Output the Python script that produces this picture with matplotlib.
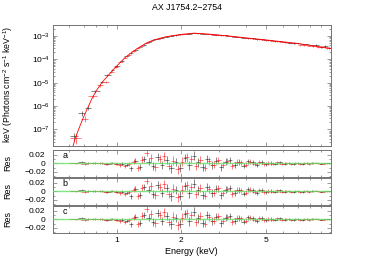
import numpy as np
import matplotlib
matplotlib.use('Agg')
import matplotlib.pyplot as plt
from matplotlib.ticker import LogLocator, NullFormatter, FixedLocator, FixedFormatter, MultipleLocator

plt.rcParams['font.family'] = ['Liberation Sans', 'DejaVu Sans']
plt.rcParams['mathtext.fontset'] = 'custom'
plt.rcParams['mathtext.rm'] = 'Liberation Sans'
plt.rcParams['mathtext.it'] = 'Liberation Sans:italic'
plt.rcParams['mathtext.bf'] = 'Liberation Sans:bold'

title = 'AX J1754.2\u22122754'
panel_tags = ['a', 'b', 'c']
xtick_vals = [1, 2, 5]
res_ticks = [-0.02, 0, 0.02]
res_ticklabels = ['\u22120.02', '0', '0.02']

# best-fit model, E (keV) vs keV*flux
model_e = [0.615, 0.62, 0.64, 0.67, 0.70, 0.735, 0.77, 0.81, 0.85, 0.90, 0.95,
           1.00, 1.05, 1.10, 1.20, 1.30, 1.40, 1.50, 1.70, 2.00, 2.30, 2.70,
           3.00, 3.50, 4.00, 5.00, 6.00, 7.00, 8.00, 9.00, 10.0]
model_f = [1.12e-8, 1.62e-8, 4.37e-8, 1.32e-7, 3.55e-7, 9.55e-7, 2.40e-6, 5.25e-6,
           1.00e-5, 1.82e-5, 3.16e-5, 5.25e-5, 8.32e-5, 1.26e-4, 2.29e-4, 3.72e-4,
           5.37e-4, 6.92e-4, 9.33e-4, 1.17e-3, 1.32e-3, 1.20e-3, 1.10e-3, 9.55e-4,
           8.32e-4, 6.76e-4, 5.62e-4, 4.79e-4, 3.98e-4, 3.39e-4, 2.95e-4]

# data set 1 (black)
blk_edges = [0.605, 0.66, 0.71, 0.76, 0.83, 0.87, 0.935, 0.97, 1.035, 1.085,
             1.135, 1.19, 1.25, 1.31, 1.375, 1.445, 1.515, 1.59, 1.67, 1.755,
             1.845, 1.935, 2.03, 2.13, 2.235, 2.345, 2.46, 2.585, 2.715, 2.85,
             2.995, 3.145, 3.30, 3.465, 3.64, 3.825, 4.015, 4.215, 4.425, 4.645,
             4.88, 5.125, 5.38, 5.65, 5.935, 6.23, 6.54, 6.87, 7.215, 7.575,
             7.955, 8.355, 8.775, 9.215, 9.675, 9.99]
blk_flux = [5.0e-8, 5.0e-7, 8.3e-7, 4.3e-6, 1.10e-5, 2.1e-5, 3.55e-5, 5.1e-5, 8.7e-5, 1.38e-4,
            1.82e-4, 2.4e-4, 3.4e-4, 4.27e-4, 5.75e-4, 6.76e-4, 7.4e-4, 8.5e-4, 9.3e-4, 1.02e-3,
            1.07e-3, 1.17e-3, 1.20e-3, 1.26e-3, 1.35e-3, 1.29e-3, 1.26e-3, 1.23e-3, 1.17e-3, 1.15e-3,
            1.07e-3, 1.05e-3, 1.00e-3, 9.3e-4, 9.1e-4, 8.5e-4, 8.1e-4, 7.8e-4, 7.4e-4, 7.1e-4,
            6.6e-4, 6.5e-4, 6.0e-4, 5.9e-4, 5.5e-4, 5.25e-4, 5.0e-4, 4.9e-4, 4.37e-4, 4.37e-4,
            4.0e-4, 4.2e-4, 3.4e-4, 3.6e-4, 3.16e-4]
blk_ferr = [0.35, 0.25, 0.22, 0.15, 0.12, 0.10, 0.08, 0.07, 0.06, 0.05,
            0.05, 0.045, 0.04, 0.04, 0.035, 0.035, 0.03, 0.03, 0.03, 0.03,
            0.03, 0.03, 0.03, 0.03, 0.03, 0.03, 0.03, 0.03, 0.03, 0.03,
            0.03, 0.03, 0.035, 0.035, 0.035, 0.04, 0.04, 0.04, 0.045, 0.045,
            0.05, 0.05, 0.05, 0.055, 0.055, 0.06, 0.06, 0.065, 0.07, 0.07,
            0.075, 0.08, 0.085, 0.09, 0.10]
blk_res = [0.0005, 0.004, 0.001, 0.0, 0.001, -0.001, 0.0, -0.002, -0.001, -0.003,
           -0.012, 0.006, -0.008, 0.010, 0.004, -0.006, 0.015, -0.004, 0.008, -0.012,
           0.003, -0.010, 0.012, -0.005, 0.018, 0.002, -0.008, 0.010, -0.004, 0.006,
           -0.009, 0.004, 0.008, -0.005, 0.003, -0.006, 0.005, 0.002, -0.004, 0.003,
           -0.002, 0.001, -0.002, 0.002, -0.001, 0.001, -0.001, 0.001, -0.001, 0.001,
           0.0, 0.001, -0.001, 0.0, 0.0]
blk_rerr = [0.001, 0.002, 0.002, 0.002, 0.002, 0.002, 0.002, 0.003, 0.003, 0.004,
            0.006, 0.006, 0.007, 0.008, 0.009, 0.009, 0.009, 0.010, 0.010, 0.010,
            0.010, 0.010, 0.010, 0.010, 0.010, 0.010, 0.009, 0.009, 0.009, 0.008,
            0.008, 0.008, 0.007, 0.007, 0.007, 0.006, 0.006, 0.005, 0.005, 0.005,
            0.004, 0.004, 0.003, 0.003, 0.003, 0.003, 0.002, 0.002, 0.002, 0.002,
            0.002, 0.0015, 0.0015, 0.0015, 0.0015]

# data set 2 (red)
red_edges = [0.605, 0.68, 0.735, 0.81, 0.86, 0.915, 0.965, 1.015, 1.065, 1.115,
             1.17, 1.225, 1.285, 1.345, 1.41, 1.48, 1.55, 1.625, 1.705, 1.79,
             1.88, 1.975, 2.07, 2.175, 2.285, 2.395, 2.515, 2.64, 2.77, 2.91,
             3.055, 3.21, 3.37, 3.54, 3.715, 3.9, 4.095, 4.3, 4.515, 4.74,
             4.975, 5.225, 5.485, 5.76, 6.05, 6.35, 6.665, 7.0, 7.35, 7.715,
             8.10, 8.505, 8.93, 9.375, 9.845]
red_flux = [4.4e-8, 2.9e-7, 2.6e-6, 7.6e-6, 1.10e-5, 2.75e-5, 4.7e-5, 7.9e-5, 1.15e-4, 1.58e-4,
            2.2e-4, 3.0e-4, 3.8e-4, 5.25e-4, 5.9e-4, 7.1e-4, 7.8e-4, 8.9e-4, 9.8e-4, 1.05e-3,
            1.12e-3, 1.17e-3, 1.26e-3, 1.32e-3, 1.32e-3, 1.29e-3, 1.23e-3, 1.23e-3, 1.15e-3, 1.12e-3,
            1.05e-3, 1.02e-3, 9.5e-4, 9.3e-4, 8.7e-4, 8.3e-4, 7.9e-4, 7.6e-4, 7.2e-4, 6.9e-4,
            6.6e-4, 6.3e-4, 6.0e-4, 5.6e-4, 5.4e-4, 5.1e-4, 4.8e-4, 4.0e-4, 4.1e-4, 3.9e-4,
            3.8e-4, 3.5e-4, 3.3e-4, 3.0e-4]
red_ferr = [0.45, 0.30, 0.15, 0.12, 0.10, 0.08, 0.07, 0.06, 0.05, 0.05,
            0.045, 0.04, 0.04, 0.035, 0.035, 0.03, 0.03, 0.03, 0.03, 0.03,
            0.03, 0.03, 0.03, 0.03, 0.03, 0.03, 0.03, 0.03, 0.03, 0.03,
            0.03, 0.035, 0.035, 0.035, 0.04, 0.04, 0.04, 0.045, 0.045, 0.05,
            0.05, 0.05, 0.055, 0.055, 0.06, 0.06, 0.065, 0.07, 0.07, 0.075,
            0.08, 0.085, 0.09, 0.10]
red_res = [0.0, -0.002, 0.001, 0.0, -0.002, 0.001, -0.001, -0.004, -0.006, -0.002,
           0.004, -0.010, 0.008, 0.024, 0.012, -0.008, 0.010, 0.016, -0.006, 0.006,
           -0.014, 0.004, 0.014, 0.010, -0.006, 0.008, -0.010, 0.005, -0.003, 0.007,
           -0.004, 0.006, -0.006, 0.004, 0.002, -0.003, 0.004, -0.002, 0.003, -0.002,
           0.001, -0.001, 0.002, -0.001, 0.001, -0.002, 0.0, -0.001, 0.001, -0.001,
           0.0, 0.0, -0.001, 0.0]
red_rerr = [0.001, 0.002, 0.002, 0.002, 0.002, 0.003, 0.003, 0.004, 0.005, 0.005,
            0.006, 0.007, 0.008, 0.008, 0.009, 0.009, 0.010, 0.010, 0.010, 0.010,
            0.010, 0.010, 0.010, 0.010, 0.010, 0.010, 0.009, 0.009, 0.009, 0.008,
            0.008, 0.007, 0.007, 0.007, 0.006, 0.006, 0.005, 0.005, 0.005, 0.004,
            0.004, 0.004, 0.003, 0.003, 0.003, 0.003, 0.002, 0.002, 0.002, 0.002,
            0.002, 0.0015, 0.0015, 0.0015]


def bins(edges):
    e = np.array(edges)
    lo, hi = e[:-1], e[1:]
    c = np.sqrt(lo * hi)
    return c, np.vstack([c - lo, hi - c])


blk_e, blk_xerr = bins(blk_edges)
red_e, red_xerr = bins(red_edges)
datasets = [
    (blk_e, blk_xerr, np.array(blk_flux), np.array(blk_ferr), np.array(blk_res), np.array(blk_rerr), 'black', 0.55),
    (red_e, red_xerr, np.array(red_flux), np.array(red_ferr), np.array(red_res), np.array(red_rerr), 'red', 0.6),
]

W, H = 373, 258
fig = plt.figure(figsize=(W / 100, H / 100), dpi=100)


def px_axes(left, top, right, bottom):
    return fig.add_axes([left / W, 1 - bottom / H, (right - left) / W, (bottom - top) / H])


frame = '0.45'


def style(ax):
    ax.set_xscale('log')
    ax.set_xlim(0.5, 10)
    ax.xaxis.set_major_locator(FixedLocator(xtick_vals))
    ax.xaxis.set_minor_locator(FixedLocator([0.6, 0.7, 0.8, 0.9, 3, 4, 6, 7, 8, 9]))
    ax.xaxis.set_minor_formatter(NullFormatter())
    ax.tick_params(which='both', direction='in', top=True, right=True, color=frame,
                   labelsize=6, width=0.5)
    ax.tick_params(which='major', length=3)
    ax.tick_params(which='minor', length=1.6)
    for s in ax.spines.values():
        s.set_color(frame)
        s.set_linewidth(0.7)


ax = px_axes(52.5, 25, 330.7, 146.3)
style(ax)
ax.set_yscale('log')
ax.set_ylim(1.9e-8, 2.95e-3)
ax.yaxis.set_major_locator(LogLocator(base=10, numticks=12))
ax.yaxis.set_minor_locator(LogLocator(base=10, subs=np.arange(2, 10), numticks=12))
ax.yaxis.set_minor_formatter(NullFormatter())
ax.tick_params(axis='x', labelbottom=False)
ax.tick_params(axis='y', pad=2)
for e, xe, f, fe, r, re, col, lw in datasets:
    ax.errorbar(e, f, xerr=xe, yerr=f * fe, fmt='none', ecolor=col, elinewidth=lw, alpha=0.6)
ax.plot(model_e, model_f, color='red', lw=0.6)

res_tops = [150, 178, 206]
for i, tag in enumerate(panel_tags):
    top = res_tops[i]
    rax = px_axes(52.5, top, 330.7, top + 26.5)
    style(rax)
    rax.set_ylim(-0.031, 0.031)
    rax.yaxis.set_major_locator(FixedLocator(res_ticks))
    rax.yaxis.set_major_formatter(FixedFormatter(res_ticklabels))
    rax.yaxis.set_minor_locator(MultipleLocator(0.01))
    rax.tick_params(axis='y', pad=5)
    for e, xe, f, fe, r, re, col, lw in datasets:
        rax.errorbar(e, r, xerr=xe, yerr=re, fmt='none', ecolor=col, elinewidth=lw, alpha=0.6)
    rax.axhline(0, color='#66dd66', lw=1.0, alpha=0.8, zorder=3)
    rax.text(0.035, 0.8, tag, transform=rax.transAxes, fontsize=6.5, va='center')
    if i < 2:
        rax.tick_params(axis='x', labelbottom=False)
    else:
        rax.xaxis.set_major_formatter(FixedFormatter([str(v) for v in xtick_vals]))
        rax.tick_params(axis='x', pad=3)
    fig.text(8 / W, 1 - (top + 13) / H, 'Res', rotation=90, ha='center', va='center', fontsize=6.5)

fig.text(0.5, 1 - 7.5 / H, title, ha='center', va='center', fontsize=6.3)
fig.text(191.6 / W, 1 - 252 / H, 'Energy (keV)', ha='center', va='center', fontsize=6.5)
fig.text(8 / W, 1 - 84 / H, 'keV (Photons cm$^{-2}$ s$^{-1}$ keV$^{-1}$)', rotation=90,
         ha='center', va='center', fontsize=6.3)

fig.savefig('out.png', dpi=100)
